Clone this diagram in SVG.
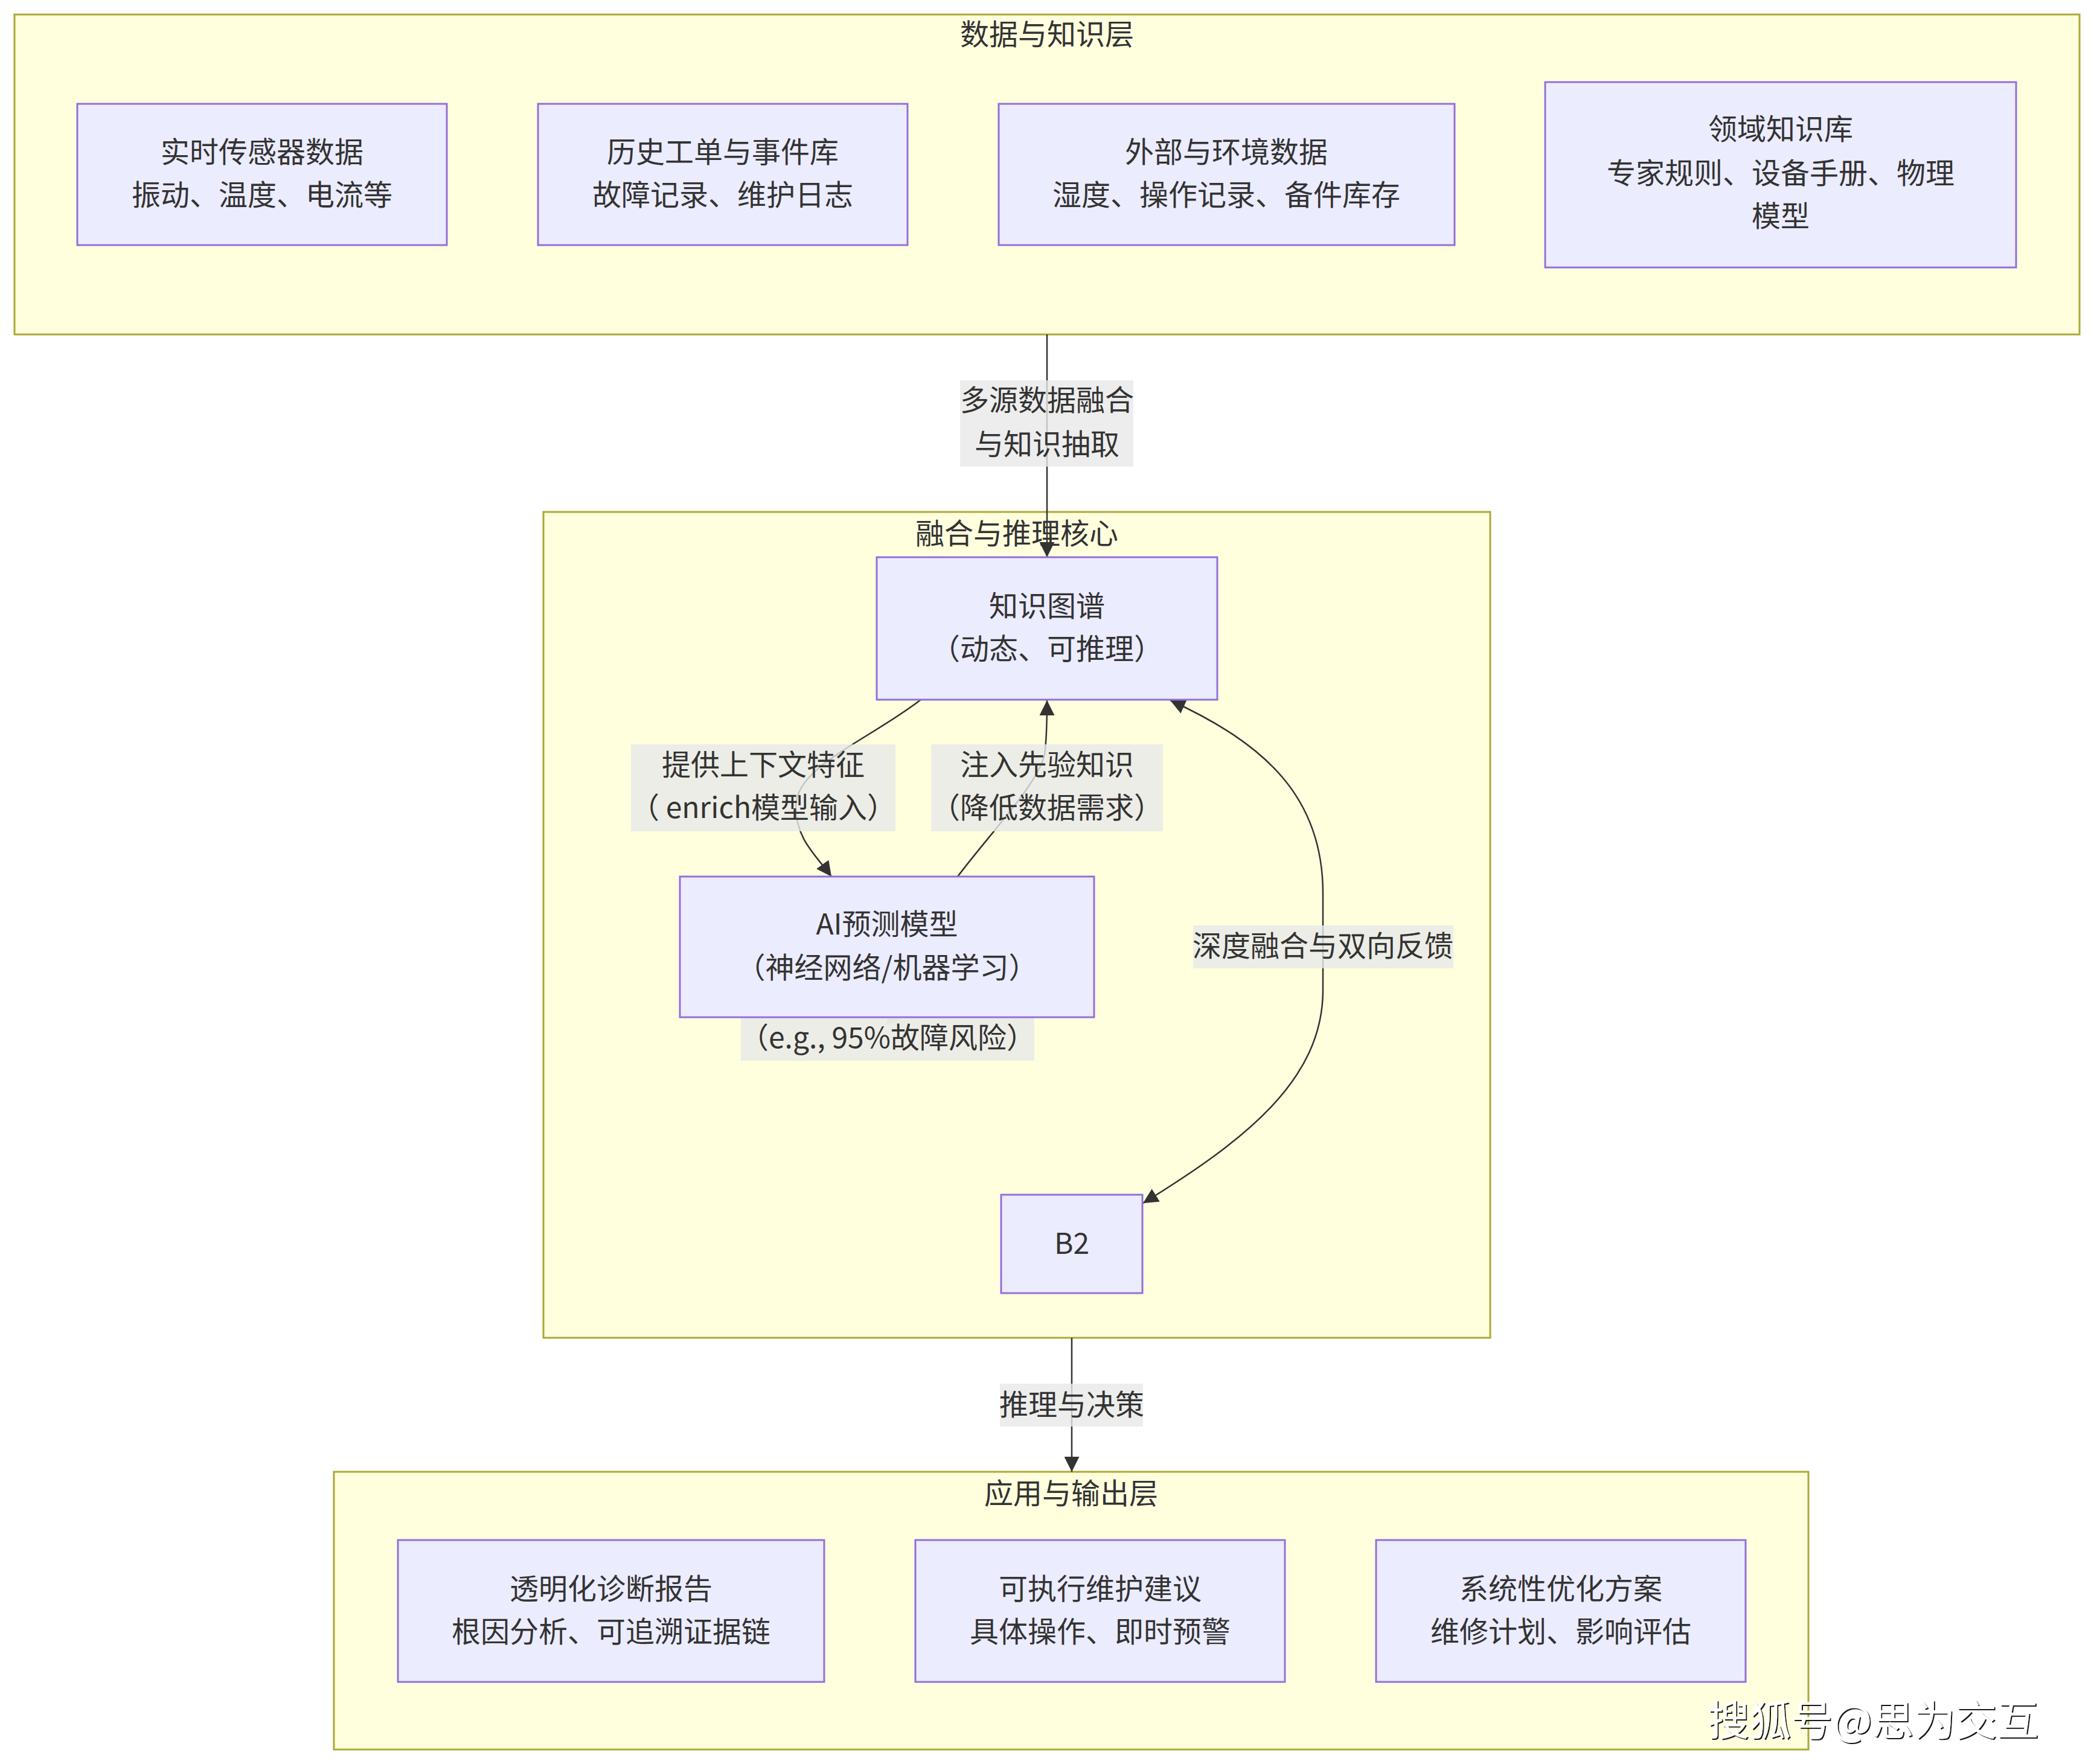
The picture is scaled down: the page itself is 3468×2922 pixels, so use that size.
<svg xmlns="http://www.w3.org/2000/svg" width="3468" height="2922" viewBox="0 0 3468 2922">
<style>
.cluster{fill:#ffffde;stroke:#aaaa33;stroke-width:3}
.node{fill:#ececff;stroke:#9370db;stroke-width:3}
.t{font-family:"Noto Sans CJK SC","Noto Sans",sans-serif;font-size:48px;fill:#333333;text-anchor:middle}
.edge{fill:none;stroke:#333333;stroke-width:2.5}
.lbl{fill:#e8e8e8;fill-opacity:0.8}
.wm{font-family:"Noto Sans CJK SC",sans-serif;font-size:69px;fill:#ffffff}
</style>
<defs>
<marker id="arr" viewBox="0 0 10 10" refX="10" refY="5" markerUnits="userSpaceOnUse" markerWidth="25" markerHeight="25" orient="auto-start-reverse">
<path d="M0,0 L10,5 L0,10 z" fill="#333333"/>
</marker>
<filter id="shadow" x="-5%" y="-20%" width="110%" height="140%">
<feDropShadow dx="2" dy="2" stdDeviation="0.6" flood-color="#000000" flood-opacity="0.9"/>
</filter>
</defs>
<rect width="3468" height="2922" fill="#ffffff"/>

<g id="cluster-data">
<rect class="cluster" x="24" y="24" width="3420" height="530"/>
<text class="t" x="1734" y="74">数据与知识层</text>
</g>
<g id="cluster-core">
<rect class="cluster" x="900" y="848" width="1568" height="1368"/>
<text class="t" x="1684" y="901">融合与推理核心</text>
</g>
<g id="cluster-app">
<rect class="cluster" x="553" y="2438" width="2442" height="460"/>
<text class="t" x="1774" y="2491">应用与输出层</text>
</g>

<g id="node-sensor">
<rect class="node" x="128" y="172" width="612" height="234"/>
<text class="t" x="434" y="269">实时传感器数据</text>
<text class="t" x="434" y="340">振动、温度、电流等</text>
</g>
<g id="node-history">
<rect class="node" x="891" y="172" width="612" height="234"/>
<text class="t" x="1197" y="269">历史工单与事件库</text>
<text class="t" x="1197" y="340">故障记录、维护日志</text>
</g>
<g id="node-external">
<rect class="node" x="1654" y="172" width="755" height="234"/>
<text class="t" x="2031" y="269">外部与环境数据</text>
<text class="t" x="2031" y="340">湿度、操作记录、备件库存</text>
</g>
<g id="node-domain">
<rect class="node" x="2559" y="136" width="780" height="307"/>
<text class="t" x="2949" y="231">领域知识库</text>
<text class="t" x="2949" y="304">专家规则、设备手册、物理</text>
<text class="t" x="2949" y="375">模型</text>
</g>

<g id="connectors">
<path class="edge" d="M1734,554 L1734,923" marker-end="url(#arr)"/>
<path class="edge" d="M1525,1159 C1440,1225 1318,1270 1318,1335 C1318,1390 1350,1415 1377,1452" marker-end="url(#arr)"/>
<path class="edge" d="M1586,1452 C1640,1380 1718,1300 1730,1250 C1734,1220 1734,1190 1734,1160" marker-end="url(#arr)"/>
<path class="edge" d="M1938,1160 C2095,1232 2191,1320 2191,1480 L2191,1640 C2191,1790 2060,1890 1893,1993" marker-start="url(#arr)" marker-end="url(#arr)"/>
<path class="edge" d="M1775,2216 L1775,2438" marker-end="url(#arr)"/>
<polygon points="1469,1687 1492,1687 1469,1697" fill="#d6d6d6"/>
</g>

<g id="edge-labels">
<rect class="lbl" x="1590" y="630" width="287" height="143"/>
<text class="t" x="1734" y="680">多源数据融合</text>
<text class="t" x="1734" y="753">与知识抽取</text>
<rect class="lbl" x="1045" y="1233" width="438" height="144"/>
<text class="t" x="1264" y="1284">提供上下文特征</text>
<text class="t" x="1264" y="1355">（ enrich模型输入）</text>
<rect class="lbl" x="1542" y="1233" width="384" height="144"/>
<text class="t" x="1734" y="1284">注入先验知识</text>
<text class="t" x="1734" y="1355">（降低数据需求）</text>
<rect class="lbl" x="1976" y="1533" width="431" height="71"/>
<text class="t" x="2191" y="1584">深度融合与双向反馈</text>
<rect class="lbl" x="1227" y="1686" width="486" height="71"/>
<text class="t" x="1470" y="1736">（e.g., 95%故障风险）</text>
<rect class="lbl" x="1656" y="2292" width="237" height="71"/>
<text class="t" x="1775" y="2344">推理与决策</text>
</g>

<g id="node-kg">
<rect class="node" x="1452" y="923" width="564" height="236"/>
<text class="t" x="1734" y="1021">知识图谱</text>
<text class="t" x="1734" y="1092">（动态、可推理）</text>
</g>
<g id="node-ai">
<rect class="node" x="1126" y="1452" width="686" height="233"/>
<text class="t" x="1469" y="1548">AI预测模型</text>
<text class="t" x="1469" y="1620">（神经网络/机器学习）</text>
</g>
<g id="node-b2">
<rect class="node" x="1658" y="1979" width="234" height="163"/>
<text class="t" x="1775" y="2077">B2</text>
</g>

<g id="node-report">
<rect class="node" x="659" y="2551" width="706" height="235"/>
<text class="t" x="1012" y="2649">透明化诊断报告</text>
<text class="t" x="1012" y="2720">根因分析、可追溯证据链</text>
</g>
<g id="node-advice">
<rect class="node" x="1516" y="2551" width="612" height="235"/>
<text class="t" x="1822" y="2649">可执行维护建议</text>
<text class="t" x="1822" y="2720">具体操作、即时预警</text>
</g>
<g id="node-plan">
<rect class="node" x="2279" y="2551" width="612" height="235"/>
<text class="t" x="2585" y="2649">系统性优化方案</text>
<text class="t" x="2585" y="2720">维修计划、影响评估</text>
</g>

<text class="wm" x="2828" y="2875" filter="url(#shadow)">搜狐号@思为交互</text>
</svg>
